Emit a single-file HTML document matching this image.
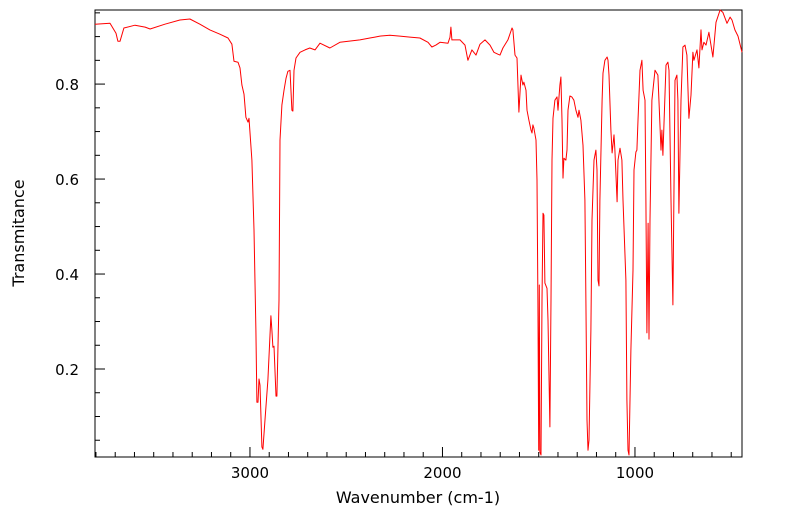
<!DOCTYPE html>
<html><head><meta charset="utf-8"><style>
body{margin:0;background:#fff;}
svg{display:block;font-family:"DejaVu Sans","Liberation Sans",sans-serif;}
</style></head><body>
<svg id="chart" width="799" height="516">
<rect x="95" y="10" width="647" height="447" fill="none" stroke="#000" stroke-width="1"/>
<g id="ticks"></g>
<polyline id="spectrum" fill="none" stroke="#ff0000" stroke-width="1" stroke-linejoin="round"/>
<text x="418" y="503" font-size="16" text-anchor="middle">Wavenumber (cm-1)</text>
<text transform="translate(24,233) rotate(-90)" font-size="16" text-anchor="middle">Transmitance</text>
</svg>
<script>
const wavenumbers=[3805,3727,3696,3686,3675,3655,3597,3545,3519,3442,3364,3312,3260,3208,3156,3114,3094,3083,3062,3052,3042,3031,3021,3010,3005,2990,2979,2969,2964,2958,2953,2948,2938,2933,2922,2907,2891,2886,2881,2875,2865,2860,2849,2844,2834,2823,2813,2803,2792,2782,2777,2771,2761,2740,2714,2689,2662,2636,2585,2533,2429,2377,2351,2325,2273,2221,2169,2117,2075,2055,2034,2013,1971,1961,1956,1951,1909,1883,1868,1847,1826,1805,1779,1753,1733,1712,1701,1686,1660,1639,1634,1623,1613,1603,1592,1582,1577,1566,1561,1551,1540,1535,1530,1525,1514,1509,1504,1500,1497,1494,1488,1483,1478,1473,1468,1457,1452,1442,1436,1431,1426,1416,1405,1400,1390,1385,1379,1374,1369,1359,1353,1348,1338,1328,1317,1307,1296,1291,1281,1270,1260,1255,1249,1244,1239,1229,1223,1213,1203,1197,1192,1187,1182,1171,1166,1156,1145,1140,1135,1125,1119,1109,1104,1093,1088,1078,1068,1062,1047,1042,1036,1031,1021,1010,1005,995,990,984,974,964,958,948,943,938,932,927,922,912,896,881,865,860,855,839,829,823,813,803,792,782,777,772,761,751,740,730,720,709,699,694,678,668,657,652,642,631,616,595,579,558,543,522,506,496,481,465,444];
const transmittance=[0.926,0.928,0.907,0.890,0.890,0.918,0.924,0.920,0.916,0.926,0.935,0.937,0.926,0.914,0.905,0.897,0.884,0.848,0.846,0.834,0.798,0.779,0.730,0.720,0.728,0.640,0.493,0.282,0.130,0.130,0.179,0.166,0.036,0.031,0.093,0.177,0.312,0.282,0.246,0.248,0.143,0.143,0.345,0.682,0.756,0.787,0.812,0.827,0.829,0.745,0.743,0.829,0.855,0.867,0.872,0.876,0.872,0.886,0.876,0.888,0.893,0.897,0.899,0.901,0.903,0.901,0.899,0.897,0.888,0.878,0.882,0.888,0.886,0.899,0.920,0.893,0.893,0.882,0.850,0.872,0.861,0.884,0.893,0.882,0.867,0.863,0.861,0.876,0.893,0.918,0.914,0.861,0.855,0.741,0.819,0.798,0.804,0.787,0.745,0.724,0.703,0.697,0.714,0.707,0.682,0.598,0.345,0.029,0.377,0.025,0.019,0.345,0.528,0.524,0.381,0.370,0.303,0.078,0.345,0.640,0.728,0.766,0.773,0.745,0.798,0.815,0.724,0.602,0.644,0.640,0.661,0.745,0.775,0.773,0.766,0.745,0.730,0.745,0.724,0.671,0.556,0.345,0.093,0.029,0.050,0.282,0.514,0.640,0.661,0.619,0.387,0.375,0.556,0.766,0.823,0.850,0.857,0.850,0.819,0.703,0.655,0.693,0.661,0.552,0.640,0.665,0.640,0.556,0.387,0.135,0.029,0.019,0.240,0.408,0.619,0.657,0.661,0.724,0.829,0.850,0.787,0.766,0.556,0.276,0.507,0.263,0.514,0.766,0.829,0.819,0.661,0.703,0.650,0.840,0.846,0.829,0.556,0.335,0.808,0.819,0.766,0.528,0.766,0.878,0.882,0.861,0.728,0.777,0.867,0.850,0.872,0.834,0.914,0.872,0.888,0.882,0.909,0.857,0.930,0.956,0.951,0.928,0.941,0.935,0.914,0.901,0.867];
const xMajorTicks=[3000,2000,1000];
const yMajorTicks=[0.2,0.4,0.6,0.8];
const xLabels=["3000","2000","1000"];
const yLabels=["0.2","0.4","0.6","0.8"];

const X0=95,X1=742,Y0=10,Y1=457;
const WN_LEFT=3805,WN_RIGHT=444,T_TOP=0.956,T_BOT=0.0147;
function xs(w){return X0+(WN_LEFT-w)/(WN_LEFT-WN_RIGHT)*(X1-X0);}
function ys(t){return Y0+(T_TOP-t)/(T_TOP-T_BOT)*(Y1-Y0);}
const NS="http://www.w3.org/2000/svg";
const g=document.getElementById('ticks');
function line(x1,y1,x2,y2,name){const l=document.createElementNS(NS,'line');l.setAttribute('x1',x1);l.setAttribute('y1',y1);l.setAttribute('x2',x2);l.setAttribute('y2',y2);l.setAttribute('stroke','#000');


g.appendChild(l);}
function text(x,y,s,anchor,name){const t=document.createElementNS(NS,'text');t.setAttribute('x',x);t.setAttribute('y',y);t.setAttribute('font-size','15');t.setAttribute('text-anchor',anchor);t.textContent=s;


g.appendChild(t);}
for(let w=500;w<=3800;w+=100){const x=xs(w);const major=w%1000===0;line(x,Y1,x,Y1-(major?10:5),major?'x-major-tick':'x-minor-tick');}
xMajorTicks.forEach((w,i)=>text(xs(w),Y1+21,xLabels[i],'middle','x-tick-label'));
for(let k=1;k<=19;k++){const t=k*0.05;if(t<T_BOT||t>T_TOP)continue;const y=ys(t);const major=k%4===0;line(X0,y,X0+(major?10:5),y,major?'y-major-tick':'y-minor-tick');}
yMajorTicks.forEach((t,i)=>text(X0-16,ys(t)+6,yLabels[i],'end','y-tick-label'));
document.getElementById('spectrum').setAttribute('points',wavenumbers.map((w,i)=>xs(w).toFixed(1)+','+ys(transmittance[i]).toFixed(1)).join(' '));
</script>
</body></html>
